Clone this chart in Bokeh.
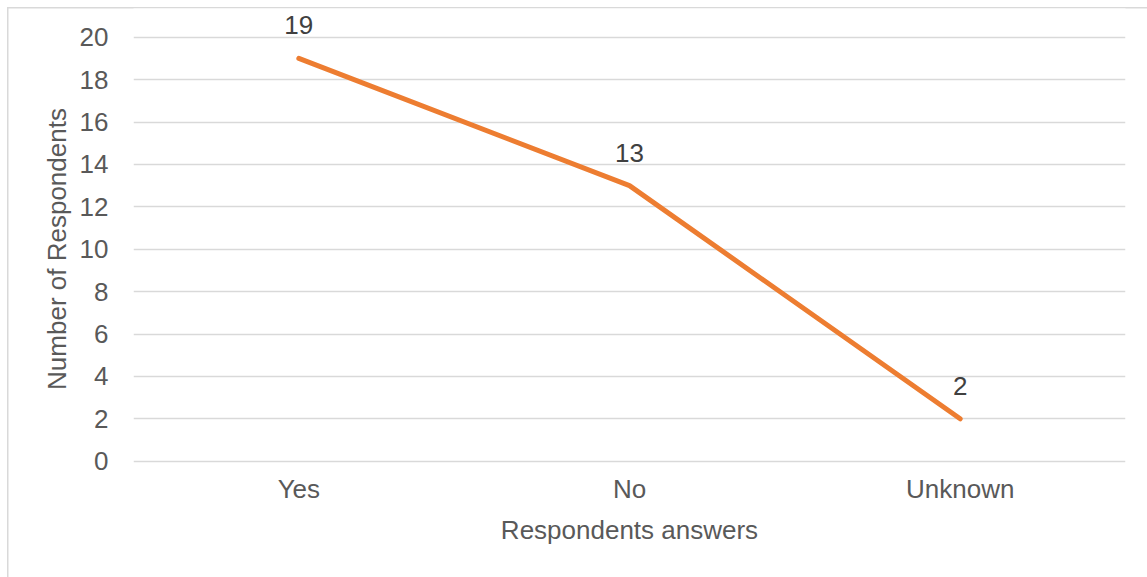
from bokeh.plotting import figure
from bokeh.models import ColumnDataSource, LabelSet, FactorRange, Range1d, FixedTicker
from bokeh.core.properties import value
from bokeh.embed import file_html
from bokeh.resources import INLINE

# Survey answers and respondent counts
answers = ["Yes", "No", "Unknown"]
respondents = [19, 13, 2]
y_ticks = [0, 2, 4, 6, 8, 10, 12, 14, 16, 18, 20]

FONT = "Liberation Sans"
TEXT = "#595959"
GRID = "#D9D9D9"

src = ColumnDataSource(dict(x=answers, y=respondents, label=[str(v) for v in respondents]))

# frame spans symmetrically around the 0-20 band (21.2 px per respondent)
# so the y-axis title is centred on the gridded area
p = figure(
    width=1147, height=577,
    x_range=FactorRange(*answers, range_padding=0),
    y_range=Range1d(-1.335, 21.354),
    output_backend="svg", toolbar_location=None,
    min_border_left=133, min_border_right=22, min_border_top=8, min_border_bottom=88,
    background_fill_color="white", border_fill_alpha=0,
)
p.outline_line_color = None

# thin outer chart border along the top and left edges
p.styles = {
    "background": (
        "linear-gradient(#D9D9D9,#D9D9D9) 7px 7px / 1.5px 100% no-repeat, "
        "linear-gradient(#D9D9D9,#D9D9D9) 7px 7px / 100% 1.5px no-repeat, white"
    )
}

p.line("x", "y", source=src, line_color="#ED7D31", line_width=5,
       line_cap="round", line_join="round")

p.add_layout(LabelSet(x="x", y="y", text="label", source=src, y_offset=24,
                      text_align="center", text_baseline="alphabetic",
                      text_font=value(FONT), text_font_size="26px", text_color="#404040"))

p.yaxis.ticker = FixedTicker(ticks=y_ticks)
p.xgrid.grid_line_color = None
p.ygrid.grid_line_color = GRID
p.ygrid.grid_line_width = 1.5

for ax in (p.xaxis, p.yaxis):
    ax.axis_line_color = None
    ax.major_tick_line_color = None
    ax.minor_tick_line_color = None
    ax.major_label_text_font = FONT
    ax.major_label_text_font_size = "26px"
    ax.major_label_text_color = TEXT
    ax.axis_label_text_font = FONT
    ax.axis_label_text_font_size = "26px"
    ax.axis_label_text_color = TEXT
    ax.axis_label_text_font_style = "normal"

p.yaxis.axis_label = "Number of Respondents"
p.xaxis.axis_label = "Respondents answers"
p.yaxis.major_label_standoff = 19
p.yaxis.axis_label_standoff = 5
p.xaxis.major_label_standoff = -22
p.xaxis.axis_label_standoff = 8

open("out.html", "w").write(file_html(p, INLINE))
